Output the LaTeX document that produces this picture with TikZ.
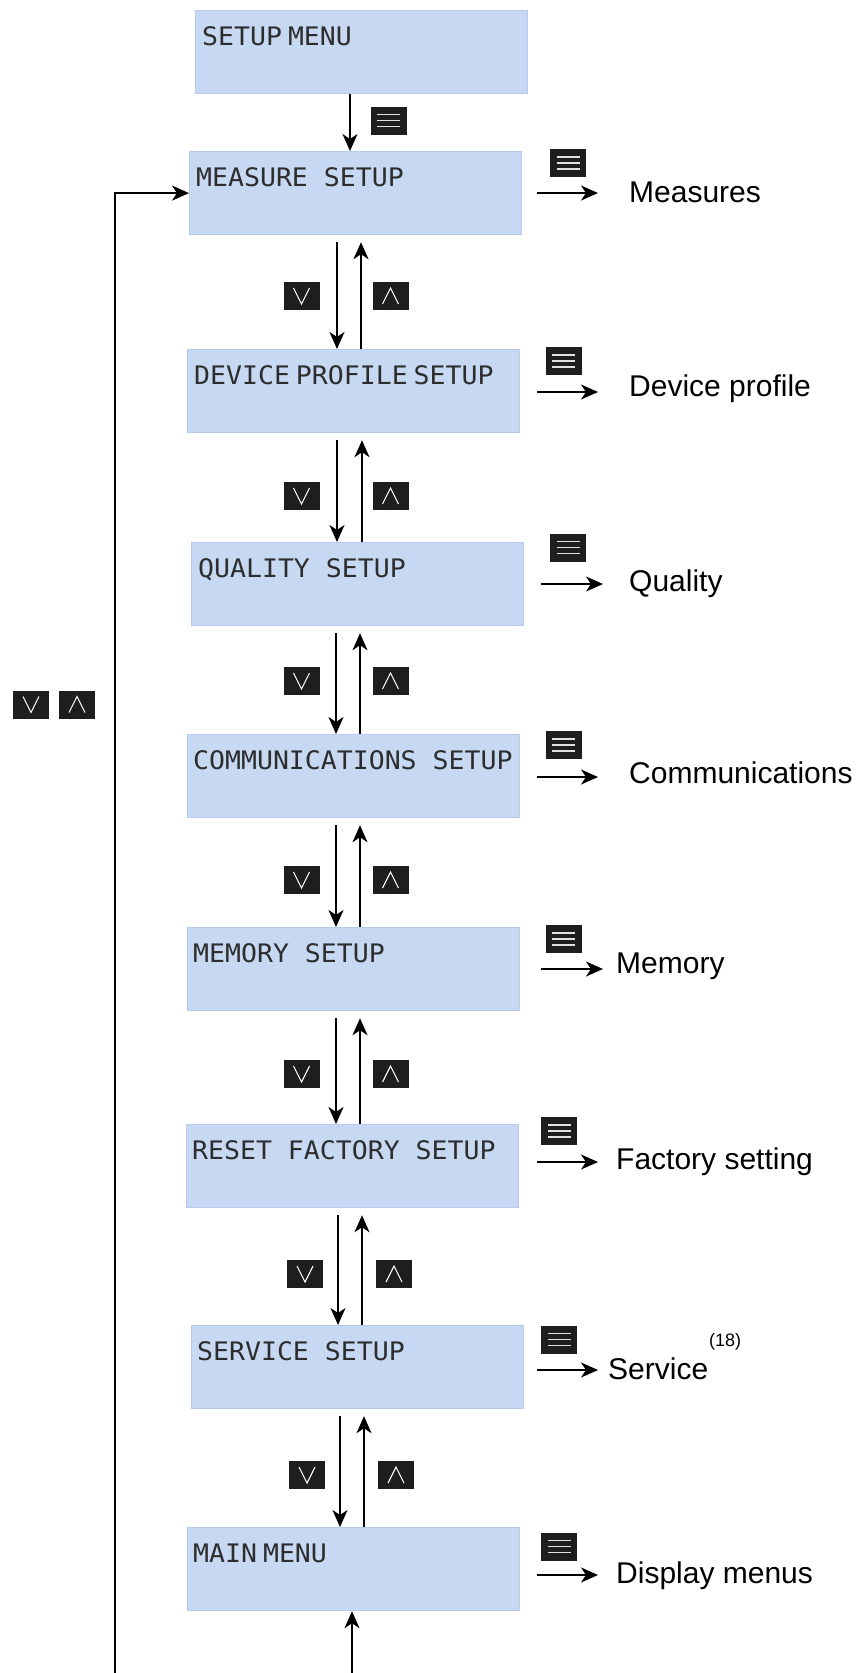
\documentclass[tikz,border=0pt]{standalone}
\usepackage{fontspec}
\setmainfont{Liberation Sans}
\newfontfamily\lcdfont[FakeStretch=1.04]{DejaVu Sans Mono}
\usetikzlibrary{arrows.meta,calc}
\definecolor{boxfill}{RGB}{198,216,242}
\definecolor{boxline}{RGB}{186,201,240}
\definecolor{keyblack}{RGB}{30,30,30}
\definecolor{lcdtext}{RGB}{45,45,45}
\newcommand\nsp{\kern6pt}
\tikzset{
  lcdbox/.style={draw=boxline, fill=boxfill, line width=1.2pt, minimum width=332pt, minimum height=83pt, anchor=north west, inner sep=0pt},
  lcdtxt/.style={anchor=base west, inner sep=0pt, text=lcdtext, font=\lcdfont\fontsize{25.5pt}{30pt}\selectfont},
  lbl/.style={anchor=base west, inner sep=0pt, font=\fontsize{30pt}{36pt}\selectfont},
  arr/.style={line width=2pt, -{Stealth[length=17pt,width=15pt,inset=5pt]}},
  keybase/.style={fill=keyblack, minimum width=36pt, minimum height=28pt, inner sep=0pt},
  menukey/.style={keybase, path picture={
     \foreach \dy in {-6,0,6}
       \draw[white!88!black, line width=1.3pt] ($(path picture bounding box.center)+(-11.5,\dy)$) -- ++(23,0);}},
  downkey/.style={keybase, path picture={
     \draw[white, line width=1.1pt] ($(path picture bounding box.center)+(-8,-8)$) -- ++(8,16) -- ++(8,-16);}},
  upkey/.style={keybase, path picture={
     \draw[white, line width=1.1pt] ($(path picture bounding box.center)+(-8,8)$) -- ++(8,-16) -- ++(8,16);}},
}
\begin{document}
\begin{tikzpicture}[x=1pt,y=-1pt]
\useasboundingbox (0,0) rectangle (857,1673);

% LCD boxes
\node[lcdbox] (b0) at (195,10) {};
\node[lcdbox] (b1) at (189,151) {};
\node[lcdbox] (b2) at (187,349) {};
\node[lcdbox] (b3) at (191,542) {};
\node[lcdbox] (b4) at (187,734) {};
\node[lcdbox] (b5) at (187,927) {};
\node[lcdbox] (b6) at (186,1124) {};
\node[lcdbox] (b7) at (191,1325) {};
\node[lcdbox] (b8) at (187,1527) {};

\node[lcdtxt] (t0) at ($(b0.north west)+(7,35)$) {SETUP\nsp MENU};
\node[lcdtxt] (t1) at ($(b1.north west)+(7,35)$) {MEASURE SETUP};
\node[lcdtxt] (t2) at ($(b2.north west)+(7,35)$) {DEVICE\nsp PROFILE\nsp SETUP};
\node[lcdtxt] (t3) at ($(b3.north west)+(7,35)$) {QUALITY SETUP};
\node[lcdtxt] (t4) at ($(b4.north west)+(6,35)$) {COMMUNICATIONS SETUP};
\node[lcdtxt] (t5) at ($(b5.north west)+(6,35)$) {MEMORY SETUP};
\node[lcdtxt] (t6) at ($(b6.north west)+(6,35)$) {RESET FACTORY SETUP};
\node[lcdtxt] (t7) at ($(b7.north west)+(6,35)$) {SERVICE SETUP};
\node[lcdtxt] (t8) at ($(b8.north west)+(6,35)$) {MAIN\nsp MENU};

% setup -> measure
\coordinate (c0) at (350,0);
\draw[arr] (b0.south -| c0) -- (b1.north -| c0);
\node[menukey] (k0) at (388.5,120.5) {};

% up/down pairs
\foreach \u/\l/\xd/\xu/\iy/\vx/\ax [count=\i] in {
  b1/b2/337/361/296/301.5/390.5,
  b2/b3/337/362/496/301.5/390.5,
  b3/b4/336/360/681/301.5/390.5,
  b4/b5/336/360/880/301.5/390.5,
  b5/b6/336/360/1074/301.5/390.5,
  b6/b7/338/362/1274/305/394,
  b7/b8/340/364/1475/307/396}{
  \coordinate (d\i) at (\xd,0);
  \coordinate (u\i) at (\xu,0);
  \draw[arr] ($(\u.south -| d\i)+(0,7)$) -- (\l.north -| d\i);
  \draw[arr] (\l.north -| u\i) -- ($(\u.south -| u\i)+(0,7)$);
  \node[downkey] (dk\i) at (\vx,\iy) {};
  \node[upkey] (uk\i) at (\ax,\iy) {};
}

% right side
\foreach \sx/\ex/\ay/\kx/\ky/\lx/\ly/\txt [count=\i] in {
  537/598/193/568/163/629/202/Measures,
  537/598/392/563.5/361/629/396/Device profile,
  541/603/584/568/547.5/629/591/Quality,
  537/598/777/563.5/745/629/783/Communications,
  541/603/969/563.5/939/616/973/Memory,
  537/598/1162/559.3/1131/616/1169/Factory setting,
  537/598/1370/559.3/1339.5/608/1379/Service,
  537/598/1575/559.3/1546.5/616/1583/Display menus}{
  \coordinate (rs\i) at (\sx,\ay);
  \coordinate (re\i) at (\ex,\ay);
  \draw[arr] (rs\i) -- (re\i);
  \node[menukey] (rk\i) at (\kx,\ky) {};
  \node[lbl] (rl\i) at (\lx,\ly) {\txt};
}
\node[anchor=base west, inner sep=0pt, font=\fontsize{18pt}{21pt}\selectfont] (note) at (709,1346) {(18)};

% loop back
\coordinate (lb) at (115,1673);
\draw[arr] (lb) |- (b1.west);
\node[downkey] (ldk) at (31,704.5) {};
\node[upkey] (luk) at (77,704.5) {};
\coordinate (bb) at (352,1673);
\draw[arr] (bb) -- (b8.south -| bb);
\end{tikzpicture}
\end{document}
